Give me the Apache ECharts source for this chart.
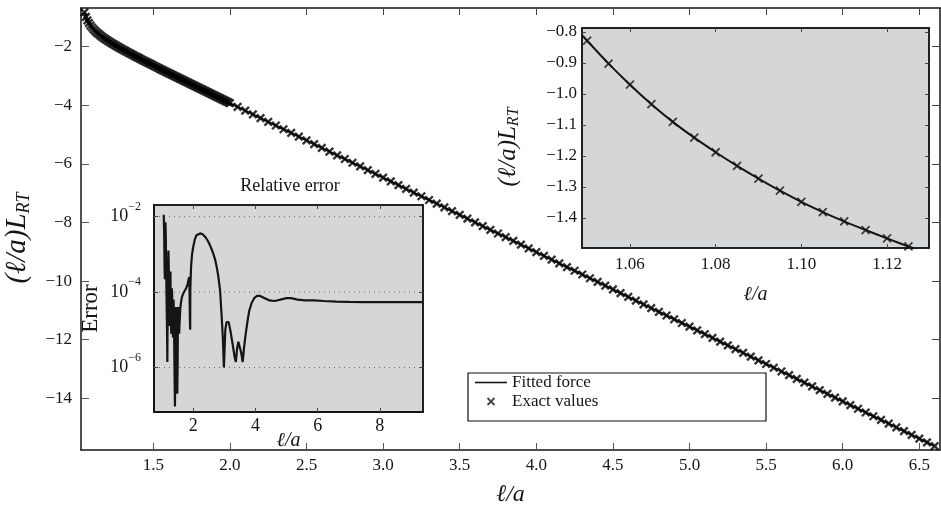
<!DOCTYPE html>
<html><head><meta charset="utf-8">
<script src="https://cdn.jsdelivr.net/npm/echarts@6/dist/echarts.min.js"></script>
<style>html,body{margin:0;padding:0;background:#fff}#c{width:941px;height:511px}</style>
</head><body><div id="c"></div>
<script>
// ---------- main panel: (l/a) L_RT versus l/a ----------
const mainX = [1.05,1.06,1.07,1.08,1.09,1.10,1.11,1.12,1.13,1.14,1.15,1.16,1.17,1.18,1.19,1.20,1.21,1.22,1.23,1.24,1.25,1.26,1.27,1.28,1.29,1.30,1.31,1.32,1.33,1.34,1.35,1.36,1.37,1.38,1.39,1.40,1.41,1.42,1.43,1.44,1.45,1.46,1.47,1.48,1.49,1.50,1.51,1.52,1.53,1.54,1.55,1.56,1.57,1.58,1.59,1.60,1.61,1.62,1.63,1.64,1.65,1.66,1.67,1.68,1.69,1.70,1.71,1.72,1.73,1.74,1.75,1.76,1.77,1.78,1.79,1.80,1.81,1.82,1.83,1.84,1.85,1.86,1.87,1.88,1.89,1.90,1.91,1.92,1.93,1.94,1.95,1.96,1.97,1.98,1.99,2.00,
2.05,2.10,2.15,2.20,2.25,2.30,2.35,2.40,2.45,2.50,2.55,2.60,2.65,2.70,2.75,2.80,2.85,2.90,2.95,3.00,3.05,3.10,3.15,3.20,3.25,3.30,3.35,3.40,3.45,3.50,3.55,3.60,3.65,3.70,3.75,3.80,3.85,3.90,3.95,4.00,4.05,4.10,4.15,4.20,4.25,4.30,4.35,4.40,4.45,4.50,4.55,4.60,4.65,4.70,4.75,4.80,4.85,4.90,4.95,5.00,5.05,5.10,5.15,5.20,5.25,5.30,5.35,5.40,5.45,5.50,5.55,5.60,5.65,5.70,5.75,5.80,5.85,5.90,5.95,6.00,6.05,6.10,6.15,6.20,6.25,6.30,6.35,6.40,6.45,6.50,6.55,6.60];
const mainY = [-0.829,-0.984,-1.103,-1.198,-1.277,-1.345,-1.405,-1.459,-1.508,-1.554,-1.598,-1.638,-1.677,-1.714,-1.750,-1.785,-1.819,-1.852,-1.884,-1.915,-1.946,-1.977,-2.007,-2.037,-2.066,-2.095,-2.124,-2.152,-2.181,-2.209,-2.237,-2.264,-2.292,-2.319,-2.347,-2.374,-2.401,-2.428,-2.455,-2.481,-2.508,-2.535,-2.561,-2.588,-2.614,-2.641,-2.667,-2.693,-2.719,-2.745,-2.772,-2.798,-2.824,-2.850,-2.876,-2.902,-2.928,-2.954,-2.979,-3.005,-3.031,-3.057,-3.083,-3.108,-3.134,-3.160,-3.186,-3.211,-3.237,-3.263,-3.288,-3.314,-3.340,-3.365,-3.391,-3.416,-3.442,-3.468,-3.493,-3.519,-3.544,-3.570,-3.595,-3.621,-3.646,-3.672,-3.698,-3.723,-3.749,-3.774,-3.800,-3.825,-3.851,-3.876,-3.901,-3.927,
-4.054,-4.182,-4.309,-4.436,-4.563,-4.690,-4.817,-4.944,-5.071,-5.198,-5.325,-5.452,-5.579,-5.706,-5.833,-5.960,-6.087,-6.214,-6.342,-6.469,-6.596,-6.723,-6.850,-6.977,-7.104,-7.231,-7.358,-7.485,-7.612,-7.740,-7.867,-7.994,-8.121,-8.248,-8.375,-8.502,-8.630,-8.757,-8.884,-9.011,-9.138,-9.266,-9.393,-9.520,-9.647,-9.774,-9.902,-10.029,-10.156,-10.283,-10.411,-10.538,-10.665,-10.792,-10.920,-11.047,-11.174,-11.301,-11.429,-11.556,-11.683,-11.811,-11.938,-12.065,-12.192,-12.320,-12.447,-12.574,-12.702,-12.829,-12.956,-13.084,-13.211,-13.338,-13.466,-13.593,-13.720,-13.848,-13.975,-14.102,-14.230,-14.357,-14.484,-14.612,-14.739,-14.866,-14.994,-15.121,-15.249,-15.376,-15.503,-15.631];
const mainTicksX = [1.5,2.0,2.5,3.0,3.5,4.0,4.5,5.0,5.5,6.0,6.5];
const mainTicksY = [-14,-12,-10,-8,-6,-4,-2];

// ---------- top-right inset: zoom near contact ----------
const zoomX = [1.050,1.055,1.060,1.065,1.070,1.075,1.080,1.085,1.090,1.095,1.100,1.105,1.110,1.115,1.120,1.125];
const zoomY = [-0.828,-0.902,-0.970,-1.033,-1.090,-1.141,-1.188,-1.232,-1.273,-1.312,-1.348,-1.381,-1.411,-1.439,-1.466,-1.492];
const zoomFitX = [1.0488,1.050,1.055,1.060,1.065,1.070,1.075,1.080,1.085,1.090,1.095,1.100,1.105,1.110,1.115,1.120,1.125,1.127];
const zoomFitY = [-0.809,-0.828,-0.902,-0.970,-1.033,-1.090,-1.141,-1.188,-1.232,-1.273,-1.312,-1.348,-1.381,-1.411,-1.439,-1.466,-1.492,-1.502];
const zoomTicksX = [1.06,1.08,1.10,1.12];
const zoomTicksY = [-1.4,-1.3,-1.2,-1.1,-1.0,-0.9,-0.8];

// ---------- left inset: relative error ----------
const errX = [1.05,1.057,1.065,1.075,1.085,1.095,1.105,1.115,1.125,1.14,1.155,1.165,1.175,1.19,1.2,1.21,1.22,1.235,1.245,1.255,1.265,1.275,1.29,1.3,1.31,1.32,1.335,1.345,1.355,1.365,1.375,1.39,1.405,1.41,1.42,1.43,1.44,1.45,1.46,1.475,1.485,1.495,1.505,1.515,1.53,1.545,1.56,1.58,1.6,1.63,1.67,1.72,1.77,1.82,1.85,1.87,1.88,1.89,1.9,1.905,1.93,1.96,2.0,2.05,2.1,2.16,2.22,2.3,2.4,2.48,2.56,2.64,2.7,2.75,2.8,2.86,2.91,2.95,2.985,3.03,3.07,3.1,3.14,3.2,3.28,3.33,3.37,3.41,3.45,3.49,3.54,3.59,3.63,3.68,3.74,3.8,3.88,3.96,4.05,4.15,4.3,4.45,4.62,4.8,5.0,5.15,5.35,5.6,5.9,6.2,6.6,7.0,7.5,8.0,8.5,9.0,9.39];
const errY = [1.12e-2,1.26e-2,2.5e-3,5.0e-4,2.2e-4,4.0e-3,7.1e-3,3.2e-3,6.3e-4,6.3e-5,1.0e-5,1.4e-6,2.5e-5,4.0e-4,1.26e-3,5.0e-4,1.0e-4,1.26e-5,5.0e-5,2.5e-4,3.5e-4,4.0e-5,7.9e-6,3.2e-5,1.26e-4,7.9e-5,1.6e-5,6.3e-6,2.0e-5,6.3e-5,3.2e-5,2.5e-6,2.0e-7,9.3e-8,6.3e-7,1.26e-5,4.0e-5,2.5e-5,5.0e-6,5.0e-7,2.0e-7,1.0e-6,1.6e-5,4.0e-5,2.0e-5,7.9e-6,1.6e-5,3.5e-5,5.0e-5,7.1e-5,8.9e-5,1.07e-4,1.26e-4,1.66e-4,2.2e-4,2.5e-4,1.0e-4,2.0e-5,1.0e-5,1.26e-4,5.0e-4,1.0e-3,1.62e-3,2.5e-3,3.2e-3,3.5e-3,3.6e-3,3.4e-3,2.8e-3,2.2e-3,1.58e-3,1.07e-3,7.4e-4,4.8e-4,2.8e-4,1.15e-4,2.5e-5,6.3e-6,1.0e-6,1.0e-5,1.6e-5,1.78e-5,1.6e-5,8.9e-6,3.5e-6,1.9e-6,1.4e-6,3.2e-6,4.8e-6,4.3e-6,2.5e-6,1.4e-6,3.2e-6,7.1e-6,1.6e-5,3.2e-5,5.2e-5,6.9e-5,7.9e-5,7.9e-5,6.9e-5,6.0e-5,5.8e-5,6.3e-5,6.9e-5,6.9e-5,6.3e-5,6.0e-5,6.0e-5,5.8e-5,5.6e-5,5.5e-5,5.4e-5,5.4e-5,5.4e-5,5.4e-5,5.4e-5];
const errTicksX = [2,4,6,8];
const errTicksY = [1e-6,1e-4,1e-2];
const errGrid = [1e-2,1e-4,1e-6];

// ---------- styles ----------
const serif = '"Liberation Serif","DejaVu Serif","Times New Roman",serif';
const ink = '#151515';
const panel = '#d5d6d8';
const cross = 'path://M0,0L10,10M10,0L0,10';
const pairs = (xs, ys) => xs.map((x, i) => [x, ys[i]]);
const minus = (v, d) => (v < 0 ? '\u2212' : '') + Math.abs(v).toFixed(d);
const ERR_XMIN = 0.736, ERR_XMAX = 9.39;

function axis(o) {
  return Object.assign({
    type: 'value',
    nameMoveOverlap: false,
    axisLine: { show: true, onZero: false, lineStyle: { color: ink, width: 1.5 } },
    splitLine: { show: false },
    axisTick: { show: true, inside: true, length: 6, lineStyle: { color: '#444', width: 1 } },
    axisLabel: { show: true, color: ink, fontFamily: serif, fontSize: 17 }
  }, o);
}
function mirror(o, customValues, len) {
  return axis(Object.assign({
    axisLabel: { show: false },
    axisTick: { show: true, inside: true, length: len, customValues: customValues, lineStyle: { color: '#444', width: 1 } }
  }, o));
}

const nameRT = '{i|(\u2113/a)L}{s|RT}';

const gridSeries = errGrid.map(v => ({
  name: 'grid ' + v, type: 'line', xAxisIndex: 2, yAxisIndex: 2,
  data: [[ERR_XMIN, v], [ERR_XMAX, v]], showSymbol: false, symbol: 'none',
  lineStyle: { color: '#6a6a6a', type: [1, 4], width: 1 }, z: 3, silent: true
}));

const option = {
  animation: false,
  backgroundColor: '#fff',
  grid: [
    { left: 81, top: 8, right: 1, bottom: 61, show: false, outerBoundsMode: 'none', containLabel: false },
    { left: 154, top: 205, width: 269, height: 207, show: true, backgroundColor: panel, borderColor: ink, borderWidth: 1.5, outerBoundsMode: 'none', containLabel: false },
    { left: 582, top: 28, width: 347, height: 220, show: true, backgroundColor: panel, borderColor: ink, borderWidth: 1.5, outerBoundsMode: 'none', containLabel: false }
  ],
  xAxis: [
    axis({ gridIndex: 0, min: 1.028, max: 6.635,
      axisTick: { show: true, inside: true, length: 7, customValues: mainTicksX, lineStyle: { color: '#555', width: 1 } },
      axisLabel: { show: true, customValues: mainTicksX, formatter: v => minus(v, 1), margin: 7, color: ink, fontFamily: serif, fontSize: 17 },
      name: '\u2113/a', nameLocation: 'middle', nameGap: 33,
      nameTextStyle: { fontFamily: serif, fontStyle: 'italic', fontSize: 24, color: ink } }),
    mirror({ gridIndex: 0, position: 'top', min: 1.028, max: 6.635 }, mainTicksX, 7),
    axis({ gridIndex: 1, min: ERR_XMIN, max: ERR_XMAX,
      axisLine: { show: true, onZero: false, lineStyle: { color: ink, width: 2 } },
      axisTick: { show: true, inside: true, length: 4, customValues: errTicksX, lineStyle: { color: '#444', width: 1 } },
      axisLabel: { show: true, customValues: errTicksX, margin: 5, color: ink, fontFamily: serif, fontSize: 18 },
      name: '\u2113/a', nameLocation: 'middle', nameGap: 19,
      nameTextStyle: { fontFamily: serif, fontStyle: 'italic', fontSize: 20, color: ink } }),
    mirror({ gridIndex: 1, position: 'top', min: ERR_XMIN, max: ERR_XMAX }, errTicksX, 4),
    axis({ gridIndex: 2, min: 1.0488, max: 1.1298,
      axisTick: { show: true, inside: true, length: 4, customValues: zoomTicksX, lineStyle: { color: '#444', width: 1 } },
      axisLabel: { show: true, customValues: zoomTicksX, formatter: v => minus(v, 2), margin: 8, color: ink, fontFamily: serif, fontSize: 17 },
      name: '\u2113/a', nameLocation: 'middle', nameGap: 37,
      nameTextStyle: { fontFamily: serif, fontStyle: 'italic', fontSize: 20, color: ink } }),
    mirror({ gridIndex: 2, position: 'top', min: 1.0488, max: 1.1298 }, zoomTicksX, 4)
  ],
  yAxis: [
    axis({ gridIndex: 0, min: -15.764, max: -0.679,
      axisTick: { show: true, inside: true, length: 8, customValues: mainTicksY, lineStyle: { color: '#555', width: 1 } },
      axisLabel: { show: true, customValues: mainTicksY, formatter: v => minus(v, 0), margin: 9, color: ink, fontFamily: serif, fontSize: 17 },
      name: nameRT, nameLocation: 'middle', nameGap: 48,
      nameTextStyle: { color: ink, padding: [0, 18, 0, 0],
        rich: { i: { fontFamily: serif, fontStyle: 'italic', fontSize: 29, color: ink },
                s: { fontFamily: serif, fontStyle: 'italic', fontSize: 18, color: ink, padding: [14, 0, 0, 0] } } } }),
    mirror({ gridIndex: 0, position: 'right', min: -15.764, max: -0.679 }, mainTicksY, 8),
    axis({ gridIndex: 1, type: 'log', logBase: 10, min: 6.6e-8, max: 0.0204,
      axisLine: { show: true, onZero: false, lineStyle: { color: ink, width: 2 } },
      axisTick: { show: true, inside: true, length: 4, customValues: errTicksY, lineStyle: { color: '#444', width: 1 } },
      axisLabel: { show: true, customValues: errTicksY, margin: 13,
        formatter: v => '{b|10}{s|\u2212' + Math.round(-Math.log10(v)) + '}',
        rich: { b: { fontFamily: serif, fontSize: 18, color: ink },
                s: { fontFamily: serif, fontSize: 12, color: ink, padding: [0, 0, 20, 0] } } },
      name: 'Error', nameLocation: 'middle', nameGap: 52,
      nameTextStyle: { fontFamily: serif, fontSize: 23, color: ink } }),
    mirror({ gridIndex: 1, type: 'log', logBase: 10, position: 'right', min: 6.6e-8, max: 0.0204 }, errTicksY, 4),
    axis({ gridIndex: 2, min: -1.497, max: -0.787,
      axisTick: { show: true, inside: true, length: 4, customValues: zoomTicksY, lineStyle: { color: '#444', width: 1 } },
      axisLabel: { show: true, customValues: zoomTicksY, formatter: v => minus(v, 1), margin: 5, color: ink, fontFamily: serif, fontSize: 17 },
      name: nameRT, nameLocation: 'middle', nameGap: 60,
      nameTextStyle: { color: ink, padding: [0, 18, 0, 0],
        rich: { i: { fontFamily: serif, fontStyle: 'italic', fontSize: 25, color: ink },
                s: { fontFamily: serif, fontStyle: 'italic', fontSize: 16, color: ink, padding: [12, 0, 0, 0] } } } }),
    mirror({ gridIndex: 2, position: 'right', min: -1.497, max: -0.787 }, zoomTicksY, 4)
  ],
  legend: {
    left: 475, top: 374, orient: 'vertical', itemGap: 2, itemWidth: 32, itemHeight: 7,
    padding: 0, selectedMode: false,
    textStyle: { fontFamily: serif, fontSize: 17, color: ink },
    data: [
      { name: 'Fitted force', icon: 'path://M0,0L32,0L32,1.6L0,1.6Z', itemStyle: { color: ink, borderWidth: 0 } },
      { name: 'Exact values', icon: cross, itemStyle: { color: 'rgba(0,0,0,0)', borderColor: ink, borderWidth: 1.8 } }
    ],
    z: 10
  },
  graphic: [
    { type: 'rect', x: 468, y: 373, z: 8,
      shape: { x: 0, y: 0, width: 298, height: 48 },
      style: { fill: '#fff', stroke: '#111', lineWidth: 1.2 } },
    { type: 'text', x: 290, y: 186, z: 8,
      style: { text: 'Relative error', align: 'center', verticalAlign: 'middle',
               font: '18px ' + serif, fill: ink } }
  ],
  series: [
    { name: 'Fitted force', type: 'line', xAxisIndex: 0, yAxisIndex: 0,
      data: pairs(mainX, mainY), showSymbol: false, symbol: 'none',
      lineStyle: { color: ink, width: 2 }, itemStyle: { color: ink }, z: 3, silent: true },
    { name: 'Exact values', type: 'scatter', xAxisIndex: 0, yAxisIndex: 0,
      data: pairs(mainX, mainY), symbol: cross, symbolSize: 7.5,
      itemStyle: { color: 'rgba(0,0,0,0)', borderColor: '#000', borderWidth: 2.4 }, z: 4, silent: true },
    ...gridSeries,
    { name: 'Relative error', type: 'line', xAxisIndex: 2, yAxisIndex: 2,
      data: pairs(errX, errY), showSymbol: false, symbol: 'none',
      lineStyle: { color: ink, width: 2.2 }, z: 4, silent: true },
    { name: 'Zoom fit', type: 'line', xAxisIndex: 4, yAxisIndex: 4,
      data: pairs(zoomFitX, zoomFitY), showSymbol: false, symbol: 'none', smooth: 0.3,
      lineStyle: { color: ink, width: 2 }, z: 4, silent: true },
    { name: 'Zoom exact', type: 'scatter', xAxisIndex: 4, yAxisIndex: 4,
      data: pairs(zoomX, zoomY), symbol: cross, symbolSize: 8,
      itemStyle: { color: 'rgba(0,0,0,0)', borderColor: ink, borderWidth: 1.8 }, z: 5, silent: true }
  ]
};

const chart = echarts.init(document.getElementById('c'), null, { renderer: 'canvas' });
chart.setOption(option);
</script>
</body></html>
